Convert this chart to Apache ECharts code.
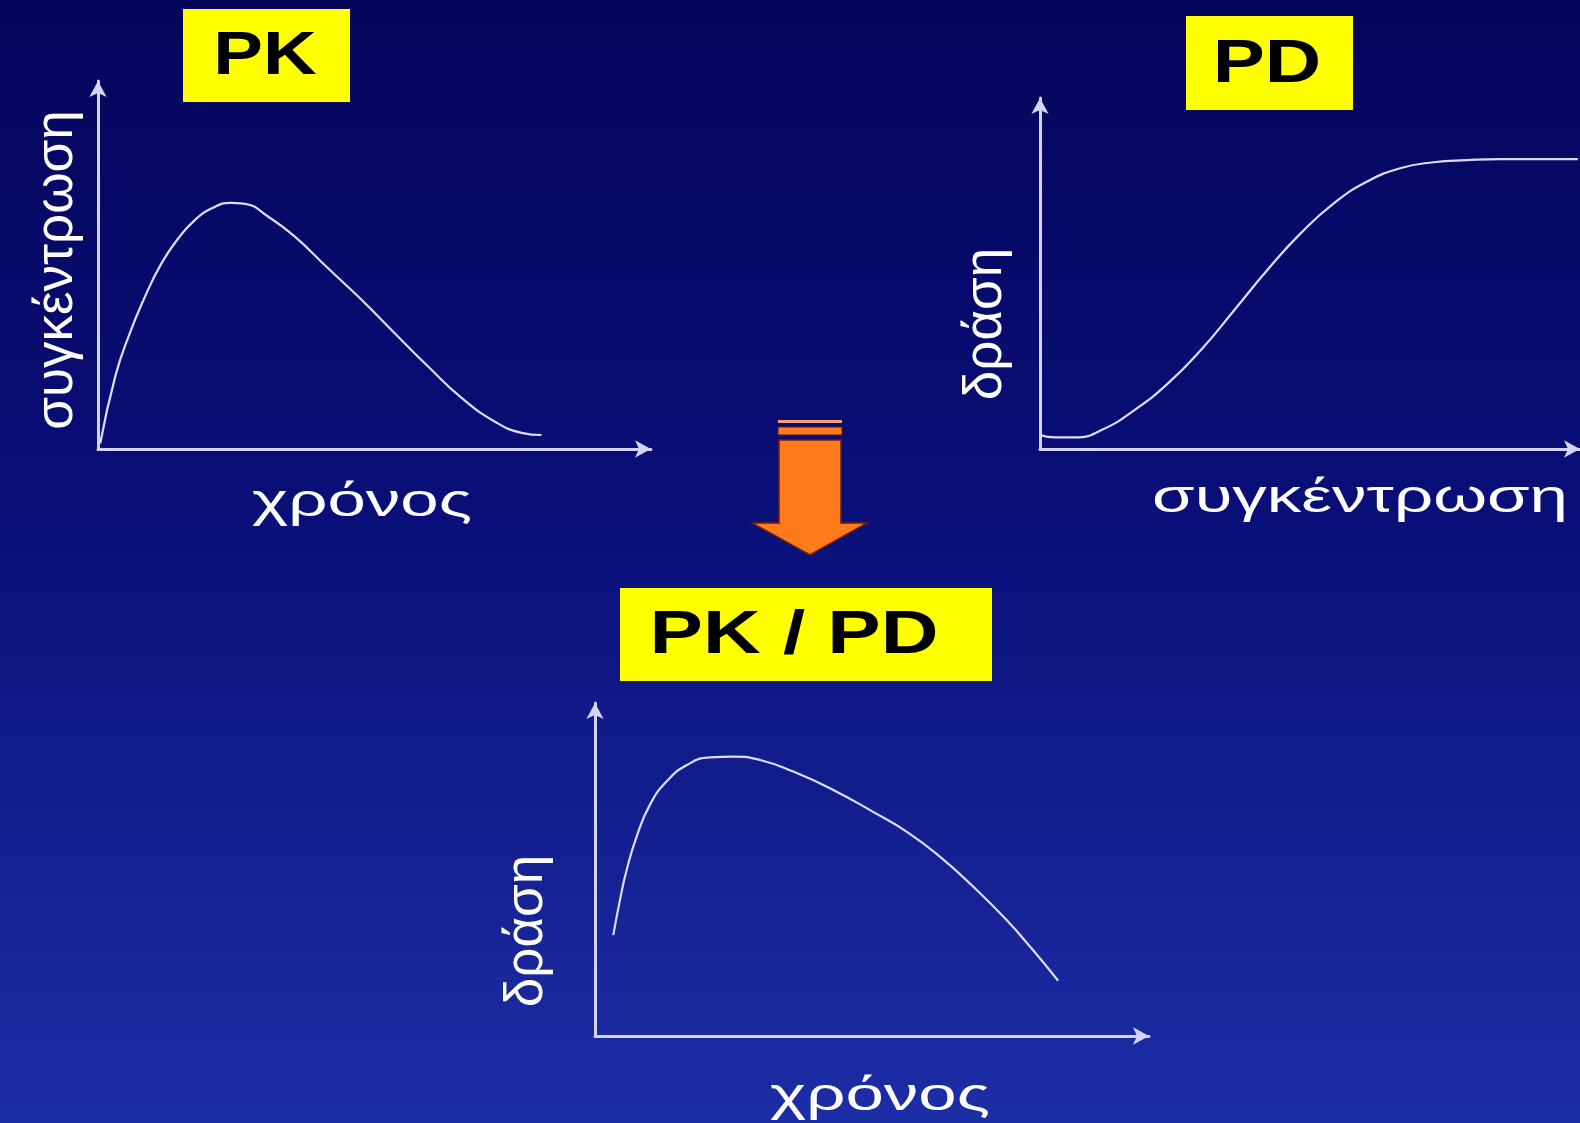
<!DOCTYPE html>
<html>
<head>
<meta charset="utf-8">
<title>PK / PD</title>
<script src="https://cdn.jsdelivr.net/npm/echarts@6/dist/echarts.min.js"></script>
<style>
  html, body { margin: 0; padding: 0; background: #0a0f70; }
  #chart { width: 1580px; height: 1123px; }
</style>
</head>
<body>
<div id="chart"></div>
<script>
// PK: concentration over time
const pkTime = [0.4, 3.1, 5.5, 8.5, 11.5, 14.5, 17.5, 20.6, 23.9, 26.6, 30.8, 35.6, 41.6, 47.7, 53.7, 59.7, 65.8, 71.8, 76.6, 80.2];
const pkConc = [1.5, 19.6, 30.5, 41.4, 50.5, 57.2, 62.2, 65.4, 66.9, 66.6, 63.1, 57.7, 49.1, 40.5, 31.4, 22.4, 13.8, 7.4, 4.4, 3.8];

// PD: effect vs concentration
const pdConc = [0, 2.8, 6.5, 11.4, 17.5, 23.7, 29.8, 36.0, 42.1, 48.3, 54.4, 60.6, 66.7, 72.9, 79.0, 85.2, 95.0, 99.6];
const pdEffect = [4.0, 3.3, 3.3, 5.4, 11.1, 18.7, 28.2, 39.6, 51.0, 61.5, 70.0, 76.2, 80.0, 81.7, 82.3, 82.6, 82.6, 82.6];

// PK/PD: effect over time
const pkpdTime = [3.3, 4.5, 5.7, 7.5, 9.9, 12.9, 16.6, 20.8, 25.0, 29.8, 35.8, 43.0, 50.2, 56.3, 62.3, 68.3, 74.3, 78.9, 83.6];
const pkpdEffect = [30.3, 40.8, 49.8, 59.8, 69.4, 76.4, 81.4, 83.7, 83.9, 82.9, 79.4, 73.9, 67.3, 61.3, 53.8, 44.8, 34.8, 26.1, 16.6];

const titles = ["PK", "PD", "PK / PD"];
const labelTime = "χρόνος";
const labelConc = "συγκέντρωση";
const labelEffect = "δράση";

const AXIS_COLOR = "#d4d4f8";
const CURVE_COLOR = "#dcdcff";
const FONT = "'Liberation Sans', Arial, sans-serif";

const chart = echarts.init(document.getElementById("chart"));

function axis(gridIndex) {
  return {
    type: "value", gridIndex, min: 0, max: 100,
    axisLine: { show: true, symbol: ["none", "arrow"], symbolSize: [13, 16], lineStyle: { color: AXIS_COLOR, width: 3 } },
    axisTick: { show: false }, axisLabel: { show: false }, splitLine: { show: false },
  };
}
function curve(idx, xs, ys) {
  return {
    type: "line", xAxisIndex: idx, yAxisIndex: idx,
    data: xs.map((x, i) => [x, ys[i]]),
    smooth: 0.5, showSymbol: false, silent: true,
    lineStyle: { color: CURVE_COLOR, width: 2.2 },
  };
}
function box(x, y, w, h, text, cx, cy, sx) {
  return [
    { type: "rect", shape: { x, y, width: w, height: h }, style: { fill: "#ffff00" } },
    {
      type: "text", x: cx, y: cy, scaleX: sx,
      style: { text, fill: "#000", font: `bold 62px ${FONT}`, align: "center", verticalAlign: "middle" },
    },
  ];
}
function hLabel(text, cx, cy) {
  return {
    type: "text", x: cx, y: cy, scaleX: 1.5,
    style: { text, fill: "#ffffff", font: `46px ${FONT}`, align: "center", verticalAlign: "middle" },
  };
}
function vLabel(text, cx, cy) {
  return {
    type: "text", x: cx, y: cy, rotation: Math.PI / 2,
    style: { text, fill: "#ffffff", font: `53px ${FONT}`, align: "center", verticalAlign: "middle" },
  };
}

chart.setOption({
  backgroundColor: {
    type: "linear", x: 0, y: 0, x2: 0, y2: 1,
    colorStops: [
      { offset: 0, color: "#05055a" },
      { offset: 0.45, color: "#0a0f78" },
      { offset: 1, color: "#1c2ea6" },
    ],
  },
  animation: false,
  grid: [
    { left: 98, top: 81, width: 553, height: 368 },
    { left: 1040, top: 98, width: 542, height: 351 },
    { left: 595, top: 703, width: 554, height: 333 },
  ],
  xAxis: [axis(0), axis(1), axis(2)],
  yAxis: [axis(0), axis(1), axis(2)],
  series: [
    curve(0, pkTime, pkConc),
    curve(1, pdConc, pdEffect),
    curve(2, pkpdTime, pkpdEffect),
  ],
  graphic: [
    ...box(183, 9, 167, 93, titles[0], 265, 57, 1.2),
    ...box(1186, 16, 167, 94, titles[1], 1267, 65, 1.26),
    ...box(620, 588, 372, 93, titles[2], 794, 636, 1.29),
    hLabel(labelTime, 362, 503),
    vLabel(labelConc, 57, 270),
    hLabel(labelConc, 1360, 499),
    vLabel(labelEffect, 986, 324),
    vLabel(labelEffect, 527, 931),
    hLabel(labelTime, 880, 1097),
    // orange arrow between the charts
    { type: "rect", shape: { x: 778, y: 420, width: 64, height: 3 }, style: { fill: "#f4a070" } },
    { type: "rect", shape: { x: 778, y: 427, width: 64, height: 8 }, style: { fill: "#ff7a1c", stroke: "#5a1a10", lineWidth: 1 } },
    {
      type: "polygon",
      shape: { points: [[779, 440], [841, 440], [841, 523], [867, 523], [810, 555], [752, 523], [779, 523]] },
      style: { fill: "#ff7a1c", stroke: "#6a2010", lineWidth: 1.5 },
    },
  ],
});
</script>
</body>
</html>
